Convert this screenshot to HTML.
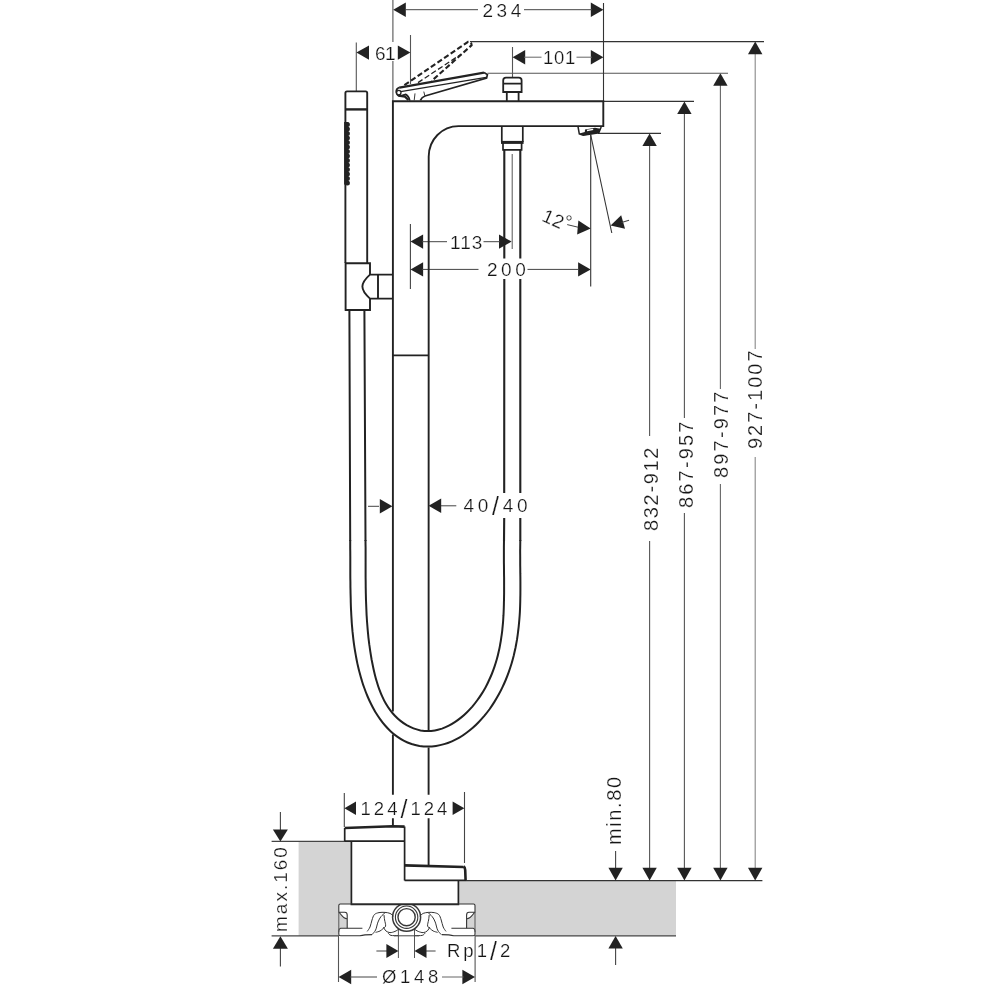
<!DOCTYPE html>
<html><head><meta charset="utf-8"><title>Dimension drawing</title>
<style>
html,body{margin:0;padding:0;background:#fff}
svg{display:block;filter:grayscale(1)}
text{font-family:"Liberation Sans",sans-serif;fill:#151515;stroke:#fff;stroke-width:0.22px}
</style></head><body>
<svg width="1000" height="1000" viewBox="0 0 1000 1000">
<rect width="1000" height="1000" fill="#fff"/>
<g opacity="0.999">
<rect x="298.6" y="841.4" width="52.6" height="94.4" fill="#d4d4d4"/>
<rect x="458.3" y="880.6" width="217.7" height="55.2" fill="#d4d4d4"/>
<path d="M338.8,905.5 Q338.8,904 340.3,904 L473.5,904 Q475,904 475,905.5 L475,934.5 Q475,935.8 473.5,935.8 L340.3,935.8 Q338.8,935.8 338.8,934.5 Z" fill="#fff"/>
<path d="M338.8,912.5 C341,913 342,918.5 347.2,919 L347.2,928.2 L338.8,928.2 Z" fill="#d4d4d4"/>
<path d="M475,912.5 C472.8,913 471.8,918.5 466.6,919 L466.6,928.2 L475,928.2 Z" fill="#d4d4d4"/>
<line x1="271.6" y1="841.4" x2="345.0" y2="841.4" stroke="#444" stroke-width="1.10" />
<line x1="271.6" y1="935.9" x2="339.0" y2="935.9" stroke="#444" stroke-width="1.10" />
<line x1="466.0" y1="880.6" x2="762.4" y2="880.6" stroke="#333" stroke-width="1.30" />
<line x1="475.0" y1="935.9" x2="676.0" y2="935.9" stroke="#444" stroke-width="1.20" />
<line x1="649.6" y1="139.4" x2="649.6" y2="436.0" stroke="#555" stroke-width="1.10" />
<line x1="649.6" y1="541.0" x2="649.6" y2="870.0" stroke="#555" stroke-width="1.10" />
<polygon points="649.6,133.4 642.4,146.0 656.8,146.0" fill="#222"/>
<polygon points="649.6,880.4 642.4,867.8 656.8,867.8" fill="#222"/>
<line x1="684.4" y1="107.4" x2="684.4" y2="418.0" stroke="#555" stroke-width="1.10" />
<line x1="684.4" y1="513.0" x2="684.4" y2="870.0" stroke="#555" stroke-width="1.10" />
<polygon points="684.4,101.4 677.2,114.0 691.6,114.0" fill="#222"/>
<polygon points="684.4,880.4 677.2,867.8 691.6,867.8" fill="#222"/>
<line x1="720.4" y1="79.2" x2="720.4" y2="389.0" stroke="#666" stroke-width="1.10" />
<line x1="720.4" y1="484.0" x2="720.4" y2="870.0" stroke="#666" stroke-width="1.10" />
<polygon points="720.4,73.2 713.2,85.8 727.6,85.8" fill="#222"/>
<polygon points="720.4,880.4 713.2,867.8 727.6,867.8" fill="#222"/>
<line x1="755.2" y1="47.6" x2="755.2" y2="349.0" stroke="#888" stroke-width="1.10" />
<line x1="755.2" y1="457.0" x2="755.2" y2="870.0" stroke="#888" stroke-width="1.10" />
<polygon points="755.2,41.6 748.0,54.2 762.4,54.2" fill="#222"/>
<polygon points="755.2,880.4 748.0,867.8 762.4,867.8" fill="#222"/>
<line x1="470.0" y1="41.6" x2="764.0" y2="41.6" stroke="#333" stroke-width="1.10" />
<line x1="487.5" y1="73.2" x2="728.0" y2="73.2" stroke="#555" stroke-width="1.10" />
<line x1="604.0" y1="101.4" x2="694.0" y2="101.4" stroke="#333" stroke-width="1.10" />
<line x1="598.0" y1="133.4" x2="661.0" y2="133.4" stroke="#333" stroke-width="1.10" />
<line x1="615.6" y1="851.0" x2="615.6" y2="870.0" stroke="#444" stroke-width="1.10" />
<polygon points="615.6,880.4 608.4,867.8 622.8,867.8" fill="#222"/>
<line x1="615.6" y1="947.0" x2="615.6" y2="965.0" stroke="#444" stroke-width="1.10" />
<polygon points="615.6,936.0 608.4,948.6 622.8,948.6" fill="#222"/>
<line x1="280.4" y1="812.0" x2="280.4" y2="831.0" stroke="#444" stroke-width="1.10" />
<polygon points="280.4,841.4 272.9,829.4 287.9,829.4" fill="#222"/>
<line x1="280.4" y1="948.0" x2="280.4" y2="966.4" stroke="#444" stroke-width="1.10" />
<polygon points="280.4,936.2 272.9,948.8 287.9,948.8" fill="#222"/>
<line x1="392.9" y1="0.0" x2="392.9" y2="42.0" stroke="#555" stroke-width="1.10" />
<line x1="392.9" y1="61.0" x2="392.9" y2="101.0" stroke="#555" stroke-width="1.10" />
<line x1="603.5" y1="3.0" x2="603.5" y2="101.0" stroke="#333" stroke-width="1.10" />
<polygon points="393.2,9.7 405.8,2.5 405.8,16.9" fill="#222"/>
<polygon points="603.4,9.7 590.8,2.5 590.8,16.9" fill="#222"/>
<line x1="405.0" y1="9.7" x2="478.0" y2="9.7" stroke="#444" stroke-width="1.00" />
<line x1="524.0" y1="9.7" x2="592.0" y2="9.7" stroke="#444" stroke-width="1.00" />
<line x1="356.3" y1="42.5" x2="356.3" y2="91.0" stroke="#555" stroke-width="1.10" />
<line x1="410.5" y1="35.0" x2="410.5" y2="84.0" stroke="#555" stroke-width="1.10" />
<polygon points="356.4,52.6 369.0,45.4 369.0,59.8" fill="#222"/>
<polygon points="410.4,52.6 397.8,45.4 397.8,59.8" fill="#222"/>
<line x1="512.5" y1="47.0" x2="512.5" y2="77.0" stroke="#555" stroke-width="1.10" />
<polygon points="512.6,57.2 525.2,50.0 525.2,64.4" fill="#222"/>
<polygon points="603.4,57.2 590.8,50.0 590.8,64.4" fill="#222"/>
<line x1="524.0" y1="57.2" x2="541.5" y2="57.2" stroke="#666" stroke-width="1.00" />
<line x1="576.5" y1="57.2" x2="592.0" y2="57.2" stroke="#666" stroke-width="1.00" />
<line x1="410.4" y1="224.0" x2="410.4" y2="289.0" stroke="#444" stroke-width="1.10" />
<polygon points="410.5,241.6 423.1,234.4 423.1,248.8" fill="#222"/>
<polygon points="511.6,241.6 499.0,234.4 499.0,248.8" fill="#222"/>
<line x1="422.0" y1="241.7" x2="447.0" y2="241.7" stroke="#444" stroke-width="1.00" />
<line x1="483.5" y1="241.7" x2="500.0" y2="241.7" stroke="#444" stroke-width="1.00" />
<polygon points="410.5,269.4 423.1,262.2 423.1,276.6" fill="#222"/>
<polygon points="590.7,269.4 578.1,262.2 578.1,276.6" fill="#222"/>
<line x1="422.0" y1="269.4" x2="478.5" y2="269.4" stroke="#444" stroke-width="1.00" />
<line x1="527.5" y1="269.4" x2="579.0" y2="269.4" stroke="#444" stroke-width="1.00" />
<line x1="590.7" y1="135.0" x2="590.7" y2="286.6" stroke="#333" stroke-width="1.10" />
<line x1="590.7" y1="135.0" x2="611.8" y2="233.0" stroke="#333" stroke-width="1.10" />
<g transform="rotate(5 590.7 228.6)">
<polygon points="590.7,228.6 577.7,221.6 577.7,235.6" fill="#222"/>
</g>
<line x1="567.2" y1="224.6" x2="578.0" y2="227.2" stroke="#444" stroke-width="1.00" />
<g transform="rotate(-16 610.6 225.6)">
<polygon points="610.6,225.6 623.6,218.6 623.6,232.6" fill="#222"/>
<line x1="622.0" y1="225.6" x2="629.8" y2="225.6" stroke="#444" stroke-width="1.00" />
</g>
<line x1="368.0" y1="506.3" x2="379.0" y2="506.3" stroke="#444" stroke-width="1.00" />
<polygon points="392.4,506.3 379.8,499.1 379.8,513.5" fill="#222"/>
<line x1="441.0" y1="505.8" x2="456.3" y2="505.8" stroke="#444" stroke-width="1.00" />
<polygon points="428.6,505.8 441.2,498.6 441.2,513.0" fill="#222"/>
<line x1="344.3" y1="793.0" x2="344.3" y2="827.0" stroke="#444" stroke-width="1.10" />
<line x1="464.5" y1="792.0" x2="464.5" y2="863.0" stroke="#444" stroke-width="1.10" />
<polygon points="344.4,808.2 356.0,801.4 356.0,815.0" fill="#222"/>
<polygon points="464.4,808.2 452.6,801.4 452.6,815.0" fill="#222"/>
<line x1="398.4" y1="926.0" x2="398.4" y2="958.0" stroke="#555" stroke-width="1.00" />
<line x1="414.5" y1="926.0" x2="414.5" y2="958.0" stroke="#555" stroke-width="1.00" />
<line x1="376.4" y1="951.0" x2="387.0" y2="951.0" stroke="#444" stroke-width="1.00" />
<polygon points="398.4,951.0 386.4,944.0 386.4,958.0" fill="#222"/>
<line x1="426.0" y1="951.0" x2="435.6" y2="951.0" stroke="#444" stroke-width="1.00" />
<polygon points="414.5,951.0 426.5,944.0 426.5,958.0" fill="#222"/>
<line x1="338.5" y1="936.0" x2="338.5" y2="982.0" stroke="#555" stroke-width="1.10" />
<line x1="475.1" y1="936.0" x2="475.1" y2="982.0" stroke="#555" stroke-width="1.10" />
<polygon points="338.6,977.0 351.2,969.8 351.2,984.2" fill="#222"/>
<polygon points="475.0,977.0 462.4,969.8 462.4,984.2" fill="#222"/>
<line x1="350.0" y1="977.0" x2="377.0" y2="977.0" stroke="#444" stroke-width="1.00" />
<line x1="442.0" y1="977.0" x2="463.5" y2="977.0" stroke="#666" stroke-width="1.00" />
<path d="M392.9,826 L392.9,818.3 M392.9,794.7 L392.9,734.5 M392.9,711.5 L392.9,101.3 L603.3,101.3 L603.3,126.1 L458.5,126.1 C442,126.1 428.7,139.6 428.7,156.6 L428.6,731 M428.6,747.5 L428.6,794.7 M428.6,818.3 L428.6,865" stroke="#222" stroke-width="1.90" fill="none" />
<line x1="392.9" y1="355.4" x2="428.6" y2="355.4" stroke="#222" stroke-width="1.80" />
<path d="M577.9,126 L579.3,134 L583.2,135.2 L598.8,132.8 L601.2,127" stroke="#222" stroke-width="1.50" fill="none" />
<polygon points="579.4,133.4 584.8,132 585,129.6 595,127.8 600.4,128.8 598.8,133 583.2,135.4" fill="#222"/>
<path d="M587,130.5 L593.2,129.3" stroke="#fff" stroke-width="1.30" fill="none" />
<path d="M503.2,92 L503.2,80.4 Q503.2,77.6 506,77.6 L518.8,77.6 Q521.6,77.6 521.6,80.4 L521.6,92 Z M503.2,83.6 L521.6,83.6 M506.8,92 L506.8,101 M518.6,92 L518.6,101" stroke="#222" stroke-width="1.80" fill="none" />
<path d="M501.8,126 L501.8,142 M522.8,142 L522.8,126 M503,142 L503,149.8 L521.6,149.8 L521.6,142" stroke="#222" stroke-width="1.70" fill="none" />
<line x1="501.0" y1="142.4" x2="523.6" y2="142.4" stroke="#222" stroke-width="3.00" />
<line x1="512.2" y1="154.0" x2="512.2" y2="249.0" stroke="#555" stroke-width="1.00" />
<path d="M504.3,149.8 L504.3,258.5 M504.3,278.5 L504.2,493 M504.2,518 L504,541" stroke="#222" stroke-width="2.10" fill="none" />
<path d="M520.3,149.8 L520.3,258.5 M520.3,278.5 L520.3,493 M520.3,518 L520.3,541" stroke="#222" stroke-width="2.10" fill="none" />
<path d="M350.2,540.0 C350.2,541.4 350.2,545.5 350.2,548.3 C350.3,551.1 350.3,553.9 350.3,556.6 C350.3,559.4 350.3,562.2 350.3,565.0 C350.3,567.8 350.3,570.6 350.3,573.4 C350.3,576.2 350.3,579.0 350.4,581.7 C350.4,584.5 350.4,587.3 350.5,590.1 C350.5,592.9 350.6,595.6 350.7,598.4 C350.7,601.2 350.8,603.9 350.9,606.7 C351.0,609.5 351.2,612.2 351.3,615.0 C351.5,617.7 351.6,620.4 351.8,623.2 C352.0,625.9 352.3,628.7 352.5,631.4 C352.8,634.1 353.1,636.8 353.4,639.6 C353.7,642.3 354.1,645.0 354.5,647.7 C354.9,650.5 355.4,653.2 355.9,655.9 C356.4,658.6 356.9,661.4 357.5,664.1 C358.1,666.8 358.7,669.6 359.5,672.3 C360.2,675.0 360.9,677.7 361.8,680.4 C362.6,683.2 363.5,685.9 364.5,688.5 C365.4,691.2 366.5,693.9 367.6,696.5 C368.7,699.1 369.9,701.7 371.2,704.3 C372.4,706.8 373.8,709.3 375.2,711.8 C376.7,714.2 378.2,716.6 379.9,718.9 C381.5,721.2 383.2,723.4 385.1,725.5 C386.9,727.6 388.8,729.6 390.8,731.4 C392.8,733.3 394.9,735.0 397.2,736.6 C399.4,738.2 401.7,739.6 404.1,740.8 C406.5,742.1 409.0,743.1 411.6,744.0 C414.1,744.8 416.8,745.4 419.5,745.9 C422.2,746.3 425.0,746.5 427.7,746.5 C430.5,746.5 433.3,746.3 436.0,745.9 C438.8,745.5 441.5,744.9 444.1,744.1 C446.8,743.4 449.4,742.4 451.9,741.3 C454.4,740.2 456.9,739.0 459.3,737.6 C461.7,736.2 464.0,734.7 466.2,733.0 C468.5,731.4 470.7,729.6 472.8,727.8 C474.9,726.0 476.9,724.0 478.8,722.0 C480.8,720.0 482.7,717.8 484.5,715.7 C486.3,713.5 488.0,711.3 489.7,709.0 C491.3,706.7 492.9,704.3 494.4,701.9 C495.9,699.5 497.3,697.1 498.7,694.6 C500.0,692.2 501.3,689.7 502.5,687.1 C503.7,684.6 504.8,682.1 505.9,679.5 C507.0,676.9 508.0,674.3 508.9,671.7 C509.8,669.1 510.7,666.4 511.5,663.8 C512.3,661.2 513.0,658.5 513.7,655.8 C514.3,653.2 514.9,650.5 515.5,647.8 C516.0,645.1 516.5,642.4 517.0,639.7 C517.4,637.0 517.8,634.2 518.1,631.5 C518.5,628.8 518.8,626.0 519.0,623.3 C519.3,620.5 519.5,617.8 519.7,615.0 C519.9,612.3 520.0,609.5 520.1,606.7 C520.2,604.0 520.3,601.2 520.3,598.4 C520.4,595.6 520.4,592.9 520.4,590.1 C520.4,587.3 520.4,584.5 520.4,581.7 C520.4,578.9 520.4,576.2 520.3,573.4 C520.3,570.6 520.3,567.8 520.2,565.0 C520.2,562.2 520.2,559.5 520.2,556.7 C520.2,553.9 520.1,551.1 520.2,548.3 C520.2,545.6 520.3,541.4 520.3,540.0" stroke="#222" stroke-width="2.00" fill="none" />
<path d="M365.5,540.0 C365.5,541.2 365.5,545.0 365.6,547.5 C365.6,550.0 365.6,552.5 365.6,555.0 C365.6,557.5 365.6,560.0 365.6,562.6 C365.6,565.1 365.6,567.6 365.6,570.1 C365.6,572.7 365.6,575.2 365.6,577.7 C365.7,580.2 365.7,582.7 365.7,585.2 C365.7,587.8 365.8,590.3 365.8,592.8 C365.9,595.3 365.9,597.8 366.0,600.3 C366.1,602.7 366.2,605.2 366.3,607.7 C366.4,610.2 366.5,612.7 366.6,615.1 C366.8,617.6 366.9,620.1 367.1,622.5 C367.3,625.0 367.5,627.5 367.7,629.9 C367.9,632.4 368.2,634.8 368.4,637.3 C368.7,639.7 369.0,642.2 369.3,644.7 C369.7,647.1 370.0,649.6 370.4,652.1 C370.8,654.6 371.2,657.0 371.6,659.5 C372.1,662.0 372.6,664.5 373.1,667.0 C373.6,669.5 374.2,672.0 374.8,674.5 C375.4,677.0 376.1,679.6 376.9,682.0 C377.6,684.5 378.4,687.0 379.3,689.4 C380.2,691.8 381.2,694.3 382.3,696.6 C383.3,698.9 384.5,701.3 385.8,703.5 C387.1,705.7 388.5,707.9 390.0,709.9 C391.5,712.0 393.1,713.9 394.9,715.8 C396.6,717.6 398.5,719.4 400.5,720.9 C402.5,722.5 404.6,723.9 406.7,725.2 C408.9,726.4 411.2,727.5 413.5,728.4 C415.8,729.3 418.1,729.9 420.5,730.4 C422.9,730.8 425.4,731.1 427.8,731.1 C430.2,731.1 432.6,730.8 434.9,730.4 C437.3,730.0 439.7,729.3 442.0,728.6 C444.3,727.8 446.5,726.8 448.8,725.7 C451.0,724.6 453.1,723.3 455.2,721.9 C457.3,720.5 459.3,719.0 461.3,717.4 C463.3,715.8 465.2,714.0 467.0,712.2 C468.8,710.4 470.6,708.5 472.3,706.6 C474.0,704.6 475.6,702.6 477.1,700.5 C478.7,698.4 480.1,696.3 481.5,694.1 C482.9,691.9 484.2,689.7 485.5,687.4 C486.7,685.2 487.9,682.9 488.9,680.5 C490.0,678.2 491.0,675.9 492.0,673.5 C492.9,671.2 493.8,668.8 494.6,666.4 C495.4,664.1 496.1,661.7 496.8,659.3 C497.5,656.9 498.1,654.5 498.6,652.0 C499.2,649.6 499.7,647.2 500.1,644.8 C500.6,642.3 501.0,639.9 501.3,637.4 C501.7,635.0 502.0,632.5 502.3,630.1 C502.5,627.6 502.8,625.1 503.0,622.7 C503.2,620.2 503.3,617.7 503.5,615.2 C503.6,612.7 503.7,610.3 503.8,607.8 C503.9,605.3 503.9,602.8 504.0,600.3 C504.0,597.8 504.1,595.3 504.1,592.7 C504.1,590.2 504.1,587.7 504.1,585.2 C504.1,582.7 504.1,580.2 504.1,577.7 C504.0,575.2 504.0,572.6 504.0,570.1 C504.0,567.6 504.0,565.1 503.9,562.6 C503.9,560.1 503.9,557.6 503.9,555.0 C503.9,552.5 503.9,550.0 503.9,547.5 C503.9,545.0 504.0,541.3 504.0,540.0" stroke="#222" stroke-width="2.00" fill="none" />
<path d="M349.4,310 L350.2,541 M364.4,310 L365.5,541" stroke="#222" stroke-width="2.00" fill="none" />
<path d="M345.4,263 L345.4,93 Q345.4,91.4 347,91.4 L365.6,91.4 Q367.2,91.4 367.2,93 L367.2,263" stroke="#222" stroke-width="1.90" fill="none" />
<line x1="345.4" y1="109.4" x2="367.2" y2="109.4" stroke="#222" stroke-width="2.40" />
<line x1="346.2" y1="122.0" x2="346.2" y2="184.6" stroke="#222" stroke-width="4.20" />
<line x1="347.4" y1="124.4" x2="347.4" y2="183" stroke="#222" stroke-width="5" stroke-linecap="round" stroke-dasharray="0 4.5"/>
<path d="M345.6,310 L345.6,263.2 L370,263.2 L370,274.6 L393,274.6 M393,298.6 L370,298.6 L370,310 L344.7,310 M378,274.6 L378,298.6 M370,274.6 C365,279 362.4,282.5 362.4,286.6 C362.4,290.7 365,294.2 370,298.6" stroke="#222" stroke-width="1.90" fill="none" />
<path d="M399.4,87.6 L484,72.6" stroke="#222" stroke-width="2.40" fill="none" />
<path d="M484,72.5 L487.4,74.6 L486.6,78 L425,96 Q421.6,97.2 420.4,100.4 M399.6,87.4 Q396,88.6 396.2,92.2 Q397,96.6 401,95.8 L405.6,94.4 Q408.6,95.6 409.8,100.6" stroke="#222" stroke-width="1.70" fill="none" />
<path d="M400.6,91.6 L486,77.4" stroke="#222" stroke-width="1.10" fill="none" />
<path d="M398.4,95.6 L405,96.6 L408.4,100" stroke="#222" stroke-width="2.20" fill="none" />
<path d="M415,93.4 L414.2,100.4 M423.8,91.6 L424.8,95.6" stroke="#222" stroke-width="0.90" fill="none" />
<circle cx="398.8" cy="92.6" r="2.2" fill="#fff" stroke="#222" stroke-width="1.3"/>
<path d="M404.4,85.2 L468.1,41.8 Q471.4,41.6 471.6,45.2 L431.6,81" stroke="#222" stroke-width="2.10" fill="none" stroke-dasharray="5.4 2.6"/>
<path d="M418,82.6 L461.4,54" stroke="#222" stroke-width="1.30" fill="none" stroke-dasharray="5.4 2.6"/>
<circle cx="406.6" cy="917.2" r="14.0" fill="#fff" stroke="#383838" stroke-width="1.5"/>
<circle cx="406.6" cy="917.2" r="11.2" fill="#fff" stroke="#383838" stroke-width="1.1"/>
<circle cx="406.6" cy="917.2" r="8.6" fill="#fff" stroke="#383838" stroke-width="1.4"/>
<rect x="390" y="900" width="34" height="4.6" fill="#fff"/>
<path d="M344.7,841.2 L344.7,828 M404.6,826.4 L404.6,880.6 M344.7,841.2 L404.6,841.2 M351.4,841.2 L351.4,904.4 L458.4,904.4 L458.4,880.6 M404.6,880.4 L466,880.4" stroke="#222" stroke-width="1.70" fill="none" />
<path d="M344.7,828 L392.6,826.2 L404.6,826.6" stroke="#222" stroke-width="2.60" fill="none" />
<path d="M404.6,865.4 L463.6,867" stroke="#222" stroke-width="2.60" fill="none" />
<path d="M463.6,866.4 Q465,867.4 465.2,870 L465.6,880.4" stroke="#222" stroke-width="2.60" fill="none" />
<path d="M338.8,912.5 L338.8,905.5 Q338.8,904 340.3,904 L473.5,904 Q475,904 475,905.5 L475,912.5 M338.8,912.5 C341,913 342,918.5 347.2,919 M338.8,912.2 L344.8,912.2 Q347.2,912.2 347.2,915 L347.2,928.2 M475,912.5 C472.8,913 471.8,918.5 466.6,919 M475,912.2 L469,912.2 Q466.6,912.2 466.6,915 L466.6,928.2" stroke="#333" stroke-width="1.10" fill="none" />
<path d="M362.4,928.2 L340.6,928.2 Q338.8,928.6 338.8,931 L338.8,934.2 Q338.8,935.8 340.6,935.8 L360,935.8 Q364,934.6 372,934.6 M451.4,928.2 L473.2,928.2 Q475,928.6 475,931 L475,934.2 Q475,935.8 473.2,935.8 L453.8,935.8 Q449.8,934.6 441.8,934.6" stroke="#333" stroke-width="1.10" fill="none" />
<line x1="338.8" y1="912.0" x2="338.8" y2="932.0" stroke="#555" stroke-width="1.00" />
<line x1="475.0" y1="912.0" x2="475.0" y2="932.0" stroke="#555" stroke-width="1.00" />
<path d="M446.0,931.4 C445.5,930.7 444.0,928.9 443.2,927.0 C442.4,925.1 441.9,922.1 441.2,920.0 C440.5,917.9 440.0,915.8 438.8,914.6 C437.6,913.4 436.0,913.0 434.2,912.6 C432.4,912.2 430.0,912.3 428.2,912.4 C426.4,912.5 424.6,912.8 423.2,913.4 C421.8,914.0 420.4,915.6 419.8,916.0" stroke="#333" stroke-width="1.00" fill="none" />
<path d="M441.2,934.6 C440.6,933.8 438.6,932.1 437.6,930.0 C436.6,927.9 436.1,924.2 435.2,922.0 C434.3,919.8 433.4,918.1 432.2,916.6 C431.0,915.1 428.9,913.4 428.2,912.8" stroke="#333" stroke-width="1.00" fill="none" />
<path d="M437.6,932.4 C436.9,932.2 434.4,931.6 433.2,931.0 C432.0,930.4 431.1,929.4 430.2,928.6 C429.3,927.8 427.9,927.4 427.6,926.0 C427.3,924.6 428.3,921.8 428.6,920.0 C428.9,918.2 429.1,915.8 429.2,915.0" stroke="#333" stroke-width="1.00" fill="none" />
<path d="M429.8,927.0 C429.4,927.7 428.3,930.1 427.2,931.0 C426.1,931.9 424.7,932.5 423.2,932.6 C421.7,932.7 419.7,932.0 418.2,931.4 C416.7,930.8 414.9,929.4 414.2,929.0" stroke="#333" stroke-width="1.00" fill="none" />
<path d="M425.2,933.0 C424.7,933.4 423.9,935.0 422.2,935.4 C420.5,935.8 416.4,935.6 415.2,935.6" stroke="#333" stroke-width="1.00" fill="none" />
<path d="M367.2,931.4 C367.7,930.7 369.2,928.9 370.0,927.0 C370.8,925.1 371.3,922.1 372.0,920.0 C372.7,917.9 373.2,915.8 374.4,914.6 C375.6,913.4 377.2,913.0 379.0,912.6 C380.8,912.2 383.2,912.3 385.0,912.4 C386.8,912.5 388.6,912.8 390.0,913.4 C391.4,914.0 392.8,915.6 393.4,916.0" stroke="#333" stroke-width="1.00" fill="none" />
<path d="M372.0,934.6 C372.6,933.8 374.6,932.1 375.6,930.0 C376.6,927.9 377.1,924.2 378.0,922.0 C378.9,919.8 379.8,918.1 381.0,916.6 C382.2,915.1 384.3,913.4 385.0,912.8" stroke="#333" stroke-width="1.00" fill="none" />
<path d="M375.6,932.4 C376.3,932.2 378.8,931.6 380.0,931.0 C381.2,930.4 382.1,929.4 383.0,928.6 C383.9,927.8 385.3,927.4 385.6,926.0 C385.9,924.6 384.9,921.8 384.6,920.0 C384.3,918.2 384.1,915.8 384.0,915.0" stroke="#333" stroke-width="1.00" fill="none" />
<path d="M383.4,927.0 C383.8,927.7 384.9,930.1 386.0,931.0 C387.1,931.9 388.5,932.5 390.0,932.6 C391.5,932.7 393.5,932.0 395.0,931.4 C396.5,930.8 398.3,929.4 399.0,929.0" stroke="#333" stroke-width="1.00" fill="none" />
<path d="M388.0,933.0 C388.5,933.4 389.3,935.0 391.0,935.4 C392.7,935.8 396.8,935.6 398.0,935.6" stroke="#333" stroke-width="1.00" fill="none" />
<line x1="394.0" y1="935.8" x2="419.0" y2="935.8" stroke="#444" stroke-width="1.00" />
<text x="482.5" y="17.0" font-size="19.0" letter-spacing="3.50" text-anchor="start" >234</text>
<rect x="374" y="44" width="22" height="17" fill="#fff"/>
<text x="375.0" y="59.5" font-size="19.0" letter-spacing="-0.50" text-anchor="start" >61</text>
<text x="543.0" y="63.6" font-size="18.5" letter-spacing="0.70" text-anchor="start" >101</text>
<text x="450.0" y="248.5" font-size="19.0" letter-spacing="1.00" text-anchor="start" >113</text>
<rect x="486" y="259" width="41" height="20" fill="#fff"/>
<text x="487.0" y="276.0" font-size="19.0" letter-spacing="3.50" text-anchor="start" >200</text>
<text x="463.5" y="512.0" font-size="19.0" letter-spacing="3.72" text-anchor="start" >40<tspan font-size="25" dy="3">/</tspan><tspan dy="-3">40</tspan></text>
<text x="360.5" y="814.7" font-size="18.5" letter-spacing="3.03" text-anchor="start" >124<tspan font-size="25" dy="3">/</tspan><tspan dy="-3">124</tspan></text>
<text x="447.0" y="957.0" font-size="18.5" letter-spacing="3.00" text-anchor="start" >Rp1<tspan font-size="25" dy="3">/</tspan><tspan dy="-3">2</tspan></text>
<text x="382.0" y="983.0" font-size="18.5" letter-spacing="3.67" text-anchor="start" >Ø148</text>
<text font-size="19" letter-spacing="0.4" transform="translate(540.8,220.6) rotate(24)">12<tspan dy="-3.5" dx="-1">°</tspan></text>
<text font-size="19.0" letter-spacing="2.00" transform="translate(287.0,932.0) rotate(-90)">max.160</text>
<text font-size="20.0" letter-spacing="1.60" transform="translate(621.0,845.0) rotate(-90)">min.80</text>
<text font-size="20.0" letter-spacing="1.67" transform="translate(658.0,531.0) rotate(-90)">832-912</text>
<text font-size="20.0" letter-spacing="2.17" transform="translate(693.0,508.0) rotate(-90)">867-957</text>
<text font-size="20.0" letter-spacing="2.17" transform="translate(728.0,478.0) rotate(-90)">897-977</text>
<text font-size="20.0" letter-spacing="2.00" transform="translate(762.4,449.0) rotate(-90)">927-1007</text>
</g>
</svg>
</body></html>
